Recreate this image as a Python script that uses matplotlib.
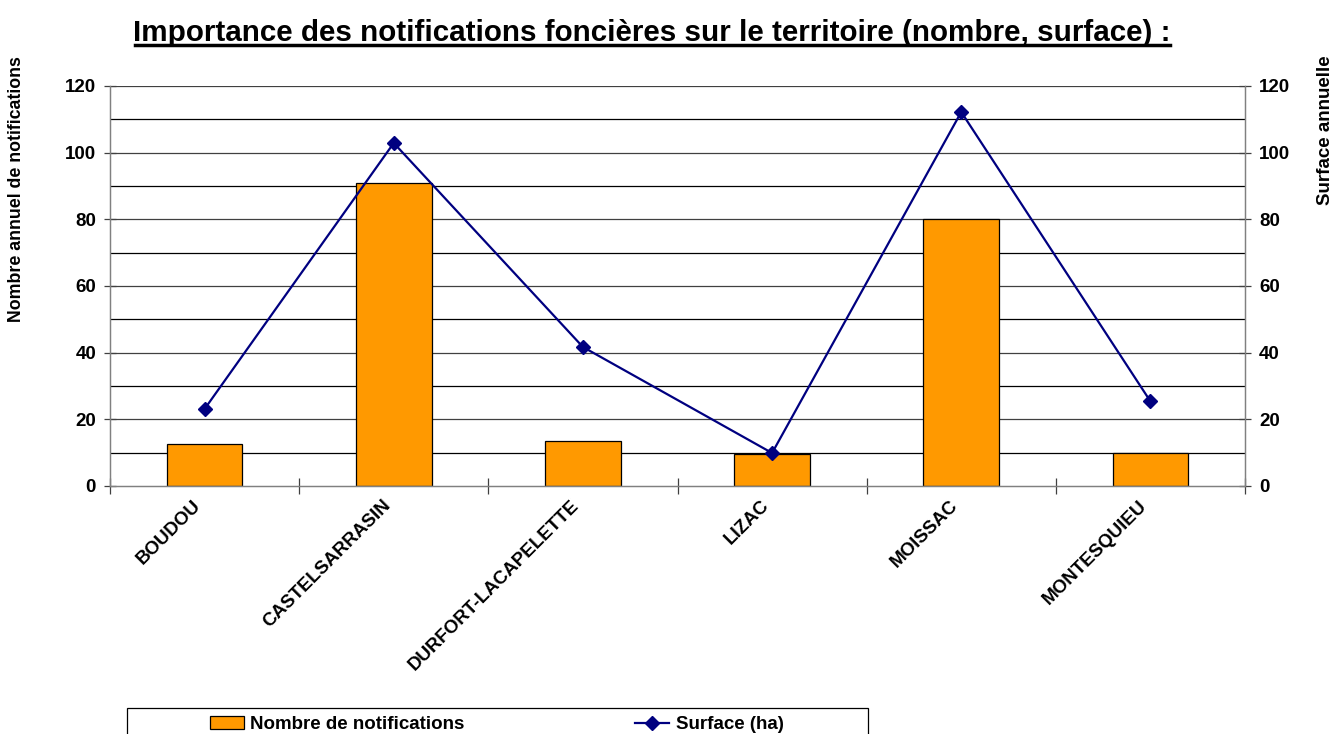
import numpy as np
import matplotlib.pyplot as plt
from matplotlib.ticker import MultipleLocator

plt.rcParams['font.family'] = ['Liberation Sans', 'DejaVu Sans']
plt.rcParams['font.weight'] = 'bold'

# Data
communes = ['BOUDOU', 'CASTELSARRASIN', 'DURFORT-LACAPELETTE', 'LIZAC', 'MOISSAC', 'MONTESQUIEU']
nb_notifications = [12.6, 90.9, 13.6, 9.5, 80.1, 10.0]
surface_ha = [23.1, 102.9, 41.7, 9.9, 112.2, 25.4]

W, H = 1335, 734
fig = plt.figure(figsize=(W / 100, H / 100), dpi=100)
ax = fig.add_axes([110 / W, 1 - 486 / H, 1135 / W, 400 / H])
ax2 = ax.twinx()

x = np.arange(len(communes))

# grid every 10 units
for v in range(10, 121, 10):
    ax.axhline(v, color='black' if v % 20 else '#404040', lw=0.9, zorder=0)

bars = ax.bar(x, nb_notifications, width=0.4, color='#FF9900', edgecolor='black',
              linewidth=0.9, zorder=2, label='Nombre de notifications')
line, = ax2.plot(x, surface_ha, color='#000080', lw=1.6, marker='D', markersize=7,
                 zorder=3, label='Surface (ha)')

for a in (ax, ax2):
    a.set_ylim(0, 120)
    a.set_xlim(-0.5, len(communes) - 0.5)
    a.yaxis.set_major_locator(MultipleLocator(20))
    a.tick_params(axis='y', labelsize=13.5, direction='inout', length=8, width=0.9,
                  color='#404040', pad=6)
    for s in a.spines.values():
        s.set_color('#808080')
        s.set_linewidth(0.9)
    a.spines['top'].set_visible(False)
ax.set_zorder(ax2.get_zorder() - 1)
ax2.patch.set_visible(False)
ax.patch.set_visible(False)

ax.set_xticks(x)
ax.set_xticklabels(communes, rotation=45, ha='right', va='top', fontsize=13.5)
ax.tick_params(axis='x', length=0, pad=8)
ax.set_xticks(np.arange(-0.5, len(communes) - 0.4, 1), minor=True)
ax.tick_params(axis='x', which='minor', direction='inout', length=12, width=0.9, color='#404040')

fig.text(17 / W, 1 - 56 / H, 'Nombre annuel de notifications', rotation=90,
         ha='center', va='top', fontsize=12.8)
fig.text(1325 / W, 1 - 55 / H, 'Surface annuelle', rotation=90,
         ha='center', va='top', fontsize=13.5)

fig.text(652 / W, 1 - 41 / H, 'Importance des notifications foncières sur le territoire (nombre, surface) :',
         ha='center', va='baseline', fontsize=21.3, fontweight='bold')
# underline of the title
fig.add_artist(plt.Line2D([135 / W, 1170 / W], [1 - 45 / H, 1 - 45 / H], color='black', lw=2.5))

# legend box at the bottom (cut by the figure edge, as in the source)
fig.add_artist(plt.Rectangle((127 / W, 1 - 745 / H), 741 / W, 37 / H, transform=fig.transFigure,
                             facecolor='white', edgecolor='black', lw=0.9))
fig.legend(handles=[bars, line], loc='upper left', bbox_to_anchor=(210 / W, 1 - 716 / H),
           ncol=2, fontsize=13.5, frameon=False, borderpad=0, borderaxespad=0,
           handlelength=1.8, handletextpad=0.35, columnspacing=9.1)

fig.savefig('out.png', dpi=100)
